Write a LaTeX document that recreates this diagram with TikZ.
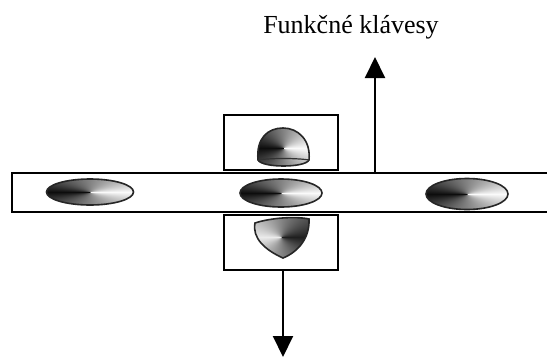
\documentclass[tikz,border=0pt]{standalone}
\usepackage{fontspec}
\setmainfont{Liberation Serif}
\usetikzlibrary{arrows.meta,shapes.geometric}

% conical gray shadings: dark on the left / white on the right, and the mirror
\pgfdeclarefunctionalshading{conicdark}{\pgfpoint{-50bp}{-50bp}}{\pgfpoint{50bp}{50bp}}{}{
  exch 0.0001 add atan 180 sub abs 180 div
  0.93 mul 0.05 add
  dup dup
}
\pgfdeclarefunctionalshading{coniclight}{\pgfpoint{-50bp}{-50bp}}{\pgfpoint{50bp}{50bp}}{}{
  exch 0.0001 add atan 180 sub abs 180 div 1 exch sub
  0.8 mul 0.12 add
  dup dup
}

\tikzset{
  frame/.style={draw=black, line width=2pt, inner sep=0pt},
  key/.style={ellipse, draw=black!85, line width=1.6pt, inner sep=0pt, shading=conicdark},
  keyedge/.style={draw=black!85, line width=1.6pt},
  arr/.style={line width=2pt, -{Triangle[length=21pt,width=20pt]}},
  label/.style={font=\fontsize{26}{30}\selectfont, inner sep=0pt}
}

\begin{document}
\begin{tikzpicture}[x=1pt, y=-1pt]
  \useasboundingbox (0,0) rectangle (547,362);
  \clip (0,0) rectangle (547,362);

  % the long key bar, running out past the right edge
  \node[frame, anchor=north west, minimum width=570pt, minimum height=39pt] (bar) at (11,172) {};

  % boxes above and below the bar
  \node[frame, anchor=north west, minimum width=114pt, minimum height=55pt] (topbox) at (223,114) {};
  \node[frame, anchor=north west, minimum width=114pt, minimum height=55pt] (botbox) at (223,214) {};

  % oval keys on the bar
  \node[key, minimum width=87pt, minimum height=26pt] (keyL) at (90,192) {};
  \node[key, minimum width=82pt, minimum height=28pt] (keyM) at (281,193) {};
  \node[key, minimum width=82pt, minimum height=31pt] (keyR) at (467,194) {};

  % dome key in the upper box
  \shade[shading=conicdark] (258,160) .. controls (256,138) and (268,128) .. (283,128)
        .. controls (298,128) and (311,140) .. (309,160)
        .. controls (305,168) and (262,168) .. (258,160) -- cycle;
  \draw[keyedge] (258,160) .. controls (256,138) and (268,128) .. (283,128)
        .. controls (298,128) and (311,140) .. (309,160)
        .. controls (305,168) and (262,168) .. (258,160) -- cycle;
  \draw[black!80, line width=1.2pt] (258,160) .. controls (270,158) and (297,158) .. (309,160);

  % shield key in the lower box
  \shade[shading=coniclight] (255,223) .. controls (270,218) and (295,216) .. (309,219)
        .. controls (310,238) and (298,252) .. (283,258)
        .. controls (265,250) and (252,238) .. (255,223) -- cycle;
  \draw[keyedge] (255,223) .. controls (270,218) and (295,216) .. (309,219)
        .. controls (310,238) and (298,252) .. (283,258)
        .. controls (265,250) and (252,238) .. (255,223) -- cycle;

  % arrows
  \coordinate (upfoot) at (375,172);
  \coordinate (uptip) at (375,57);
  \coordinate (downtip) at (283,357);
  \draw[arr] (upfoot) -- (uptip);
  \draw[arr] (botbox.south -| downtip) -- (downtip);

  \node[label, anchor=base] (title) at (351,33) {Funkčné klávesy};
\end{tikzpicture}
\end{document}
